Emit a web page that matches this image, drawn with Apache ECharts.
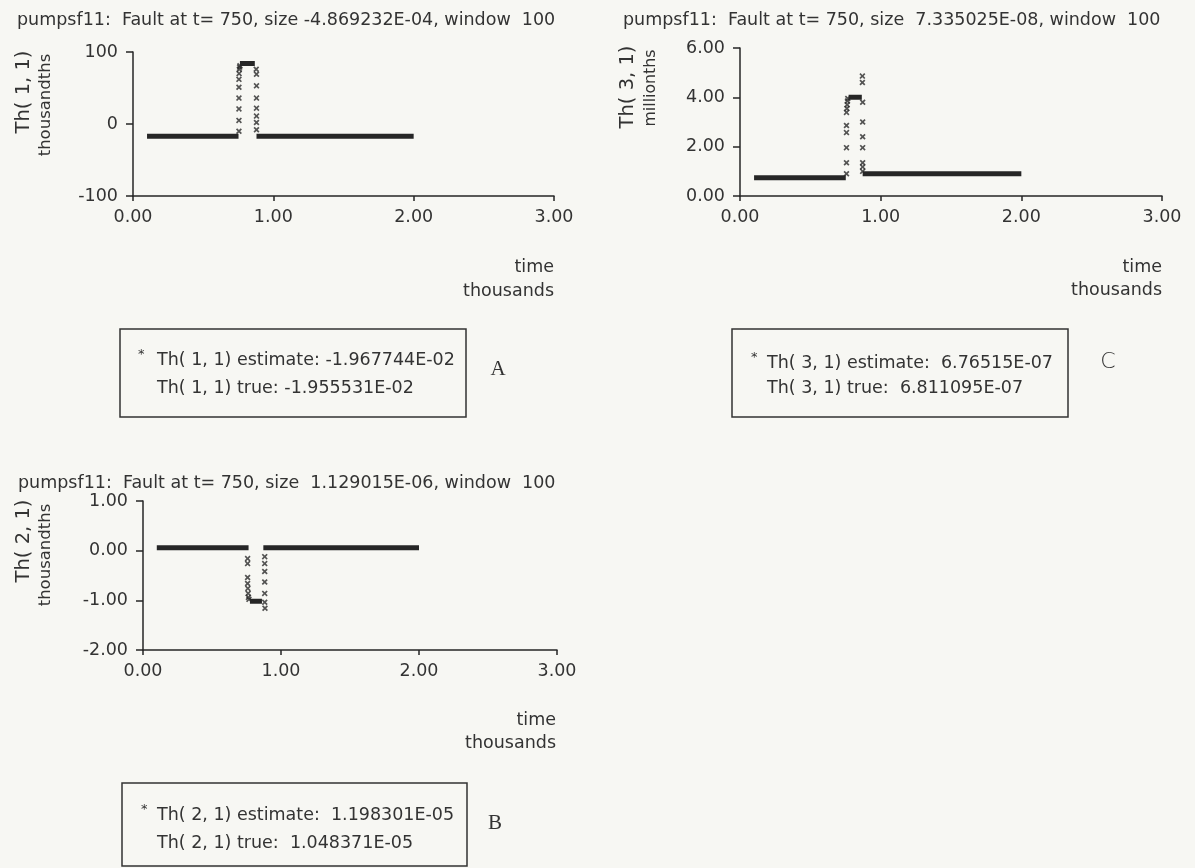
<!DOCTYPE html>
<html><head><meta charset="utf-8">
<script src="https://cdn.jsdelivr.net/npm/echarts@6/dist/echarts.min.js"></script>
<style>html,body{margin:0;padding:0;background:#f7f7f3}#c{width:1195px;height:868px}</style>
</head><body><div id="c"></div>
<script>
// ---------- text ----------
const titleA = 'pumpsf11:  Fault at t= 750, size -4.869232E-04, window  100';
const titleB = 'pumpsf11:  Fault at t= 750, size  1.129015E-06, window  100';
const titleC = 'pumpsf11:  Fault at t= 750, size  7.335025E-08, window  100';
const yNameA = ['Th( 1, 1)', 'thousandths'];
const yNameB = ['Th( 2, 1)', 'thousandths'];
const yNameC = ['Th( 3, 1)', 'millionths'];
const xName = ['time', 'thousands'];
const legendA = ['Th( 1, 1) estimate: -1.967744E-02', 'Th( 1, 1) true: -1.955531E-02'];
const legendB = ['Th( 2, 1) estimate:  1.198301E-05', 'Th( 2, 1) true:  1.048371E-05'];
const legendC = ['Th( 3, 1) estimate:  6.76515E-07', 'Th( 3, 1) true:  6.811095E-07'];
const panelLetters = ['A', 'B', 'C'];

// ---------- axes ----------
const xRange = [0, 3000, 1000];           // time, shown in thousands
const yRangeA = [-100, 100, 100];         // thousandths
const yRangeB = [-2, 1, 1];               // thousandths
const yRangeC = [0, 6, 2];                // millionths

// ---------- data (time, value) ----------
// Plot A : Th(1,1) in thousandths
const aBase1 = [[100, -17], [752, -17]];
const aBase2 = [[880, -17], [2000, -17]];
const aPlateau = [[762, 84], [868, 84]];
const aPoints = [[755, -10], [755, 5], [755, 21], [755, 36], [755, 51], [755, 62], [756, 70], [758, 76], [760, 79], [762, 81],
                 [878, 76], [880, 69], [880, 53], [880, 36], [880, 22], [880, 11], [880, 2], [880, -8]];
// Plot B : Th(2,1) in thousandths
const bBase1 = [[100, 0.06], [765, 0.06]];
const bBase2 = [[872, 0.06], [2000, 0.06]];
const bPlateau = [[775, -1.02], [862, -1.02]];
const bPoints = [[758, -0.16], [758, -0.26], [758, -0.54], [758, -0.66], [760, -0.76], [762, -0.86], [764, -0.94], [768, -0.98],
                 [882, -0.12], [882, -0.26], [882, -0.42], [882, -0.63], [882, -0.86], [882, -1.04], [884, -1.16]];
// Plot C : Th(3,1) in millionths
const cBase1 = [[100, 0.74], [752, 0.74]];
const cBase2 = [[872, 0.90], [2000, 0.90]];
const cPlateau = [[772, 4.0], [866, 4.0]];
const cPoints = [[757, 0.9], [757, 1.35], [757, 1.96], [757, 2.57], [757, 2.86], [757, 3.39], [760, 3.55], [762, 3.7], [764, 3.85], [766, 3.95],
                 [870, 4.86], [870, 4.6], [872, 3.8], [872, 3.0], [872, 2.4], [872, 1.96], [872, 1.35], [872, 1.18], [872, 1.0]];

// ---------- build ----------
const FONT = 'DejaVu Sans';
const FS = 17.5;
const INK = '#262626';
const XPATH = 'path://M0,2L2,0L5,3L8,0L10,2L7,5L10,8L8,10L5,7L2,10L0,8L3,5Z';

const grids = [
  {left: 133, top: 52, width: 421, height: 144},   // A
  {left: 143, top: 501, width: 414, height: 149},  // B
  {left: 740, top: 48, width: 422, height: 148}    // C
];
const yRanges = [yRangeA, yRangeB, yRangeC];
const yFmt = [v => String(Math.round(v)), v => v.toFixed(2), v => v.toFixed(2)];

const xAxes = grids.map((g, i) => ({
  type: 'value', gridIndex: i, min: xRange[0], max: xRange[1], interval: xRange[2],
  axisLine: {show: true, onZero: false, lineStyle: {color: INK, width: 1.5}},
  axisTick: {show: true, length: 5, lineStyle: {color: INK, width: 1.5}},
  splitLine: {show: false},
  axisLabel: {formatter: v => (v / 1000).toFixed(2), fontFamily: FONT, fontSize: FS, color: '#333', margin: 12}
}));
const yAxes = grids.map((g, i) => ({
  type: 'value', gridIndex: i, min: yRanges[i][0], max: yRanges[i][1], interval: yRanges[i][2],
  axisLine: {show: true, onZero: false, lineStyle: {color: INK, width: 1.5}},
  axisTick: {show: true, length: 7, lineStyle: {color: INK, width: 1.5}},
  splitLine: {show: false},
  axisLabel: {formatter: yFmt[i], fontFamily: FONT, fontSize: FS, color: '#333', margin: 15}
}));

function seg(data, i) {
  return {type: 'line', xAxisIndex: i, yAxisIndex: i, data: data, symbol: 'none', silent: true,
          lineStyle: {color: INK, width: 5}, animation: false};
}
function pts(data, i) {
  return {type: 'scatter', xAxisIndex: i, yAxisIndex: i, data: data, symbol: XPATH, symbolSize: 6,
          itemStyle: {color: '#2a2a2a'}, silent: true, animation: false};
}
const series = [
  seg(aBase1, 0), seg(aBase2, 0), seg(aPlateau, 0), pts(aPoints, 0),
  seg(bBase1, 1), seg(bBase2, 1), seg(bPlateau, 1), pts(bPoints, 1),
  seg(cBase1, 2), seg(cBase2, 2), seg(cPlateau, 2), pts(cPoints, 2)
];

function txt(x, y, text, size, opts) {
  opts = opts || {};
  return {type: 'text', x: x, y: y, rotation: opts.rot || 0, silent: true,
    style: {text: text, font: (opts.weight || '') + ' ' + size + 'px "' + (opts.family || FONT) + '"', fill: opts.color || '#333',
            align: opts.align || 'left', textAlign: opts.align || 'left',
            verticalAlign: 'middle', textVerticalAlign: 'middle'}};
}
function box(x, y, w, h) {
  return {type: 'rect', shape: {x: x, y: y, width: w, height: h}, silent: true,
          style: {fill: 'none', stroke: '#333', lineWidth: 1.5}};
}
const graphics = [
  txt(17, 20, titleA, FS), txt(18, 483, titleB, FS), txt(623, 20, titleC, FS),
  // y-axis names
  txt(24, 92, yNameA[0], 19.5, {rot: Math.PI / 2, align: 'center'}),
  txt(46, 105, yNameA[1], 16.5, {rot: Math.PI / 2, align: 'center'}),
  txt(24, 541, yNameB[0], 19.5, {rot: Math.PI / 2, align: 'center'}),
  txt(46, 555, yNameB[1], 16.5, {rot: Math.PI / 2, align: 'center'}),
  txt(628, 87, yNameC[0], 19.5, {rot: Math.PI / 2, align: 'center'}),
  txt(651, 88, yNameC[1], 15.8, {rot: Math.PI / 2, align: 'center'}),
  // x-axis names
  txt(554, 267, xName[0], FS, {align: 'right'}), txt(554, 291, xName[1], FS, {align: 'right'}),
  txt(556, 720, xName[0], FS, {align: 'right'}), txt(556, 743, xName[1], FS, {align: 'right'}),
  txt(1162, 267, xName[0], FS, {align: 'right'}), txt(1162, 290, xName[1], FS, {align: 'right'}),
  // legend boxes
  box(120, 329, 346, 88), txt(138, 355, '*', 13), txt(157, 360, legendA[0], FS), txt(157, 388, legendA[1], FS),
  box(122, 783, 345, 83), txt(141, 810, '*', 13), txt(157, 815, legendB[0], FS), txt(157, 843, legendB[1], FS),
  box(732, 329, 336, 88), txt(751, 358, '*', 13), txt(767, 363, legendC[0], FS), txt(767, 388, legendC[1], FS),
  // panel letters
  txt(498, 369, panelLetters[0], 21, {align: 'center', family: 'Liberation Serif'}),
  txt(495, 823, panelLetters[1], 21, {align: 'center', family: 'Liberation Serif'}),
  txt(1108, 362, panelLetters[2], 22, {align: 'center', family: 'DejaVu Sans', weight: '200'})
];

const chart = echarts.init(document.getElementById('c'), null, {renderer: 'canvas'});
chart.setOption({
  backgroundColor: '#f7f7f3',
  animation: false,
  grid: grids,
  xAxis: xAxes,
  yAxis: yAxes,
  series: series,
  graphic: graphics
});
</script></body></html>
